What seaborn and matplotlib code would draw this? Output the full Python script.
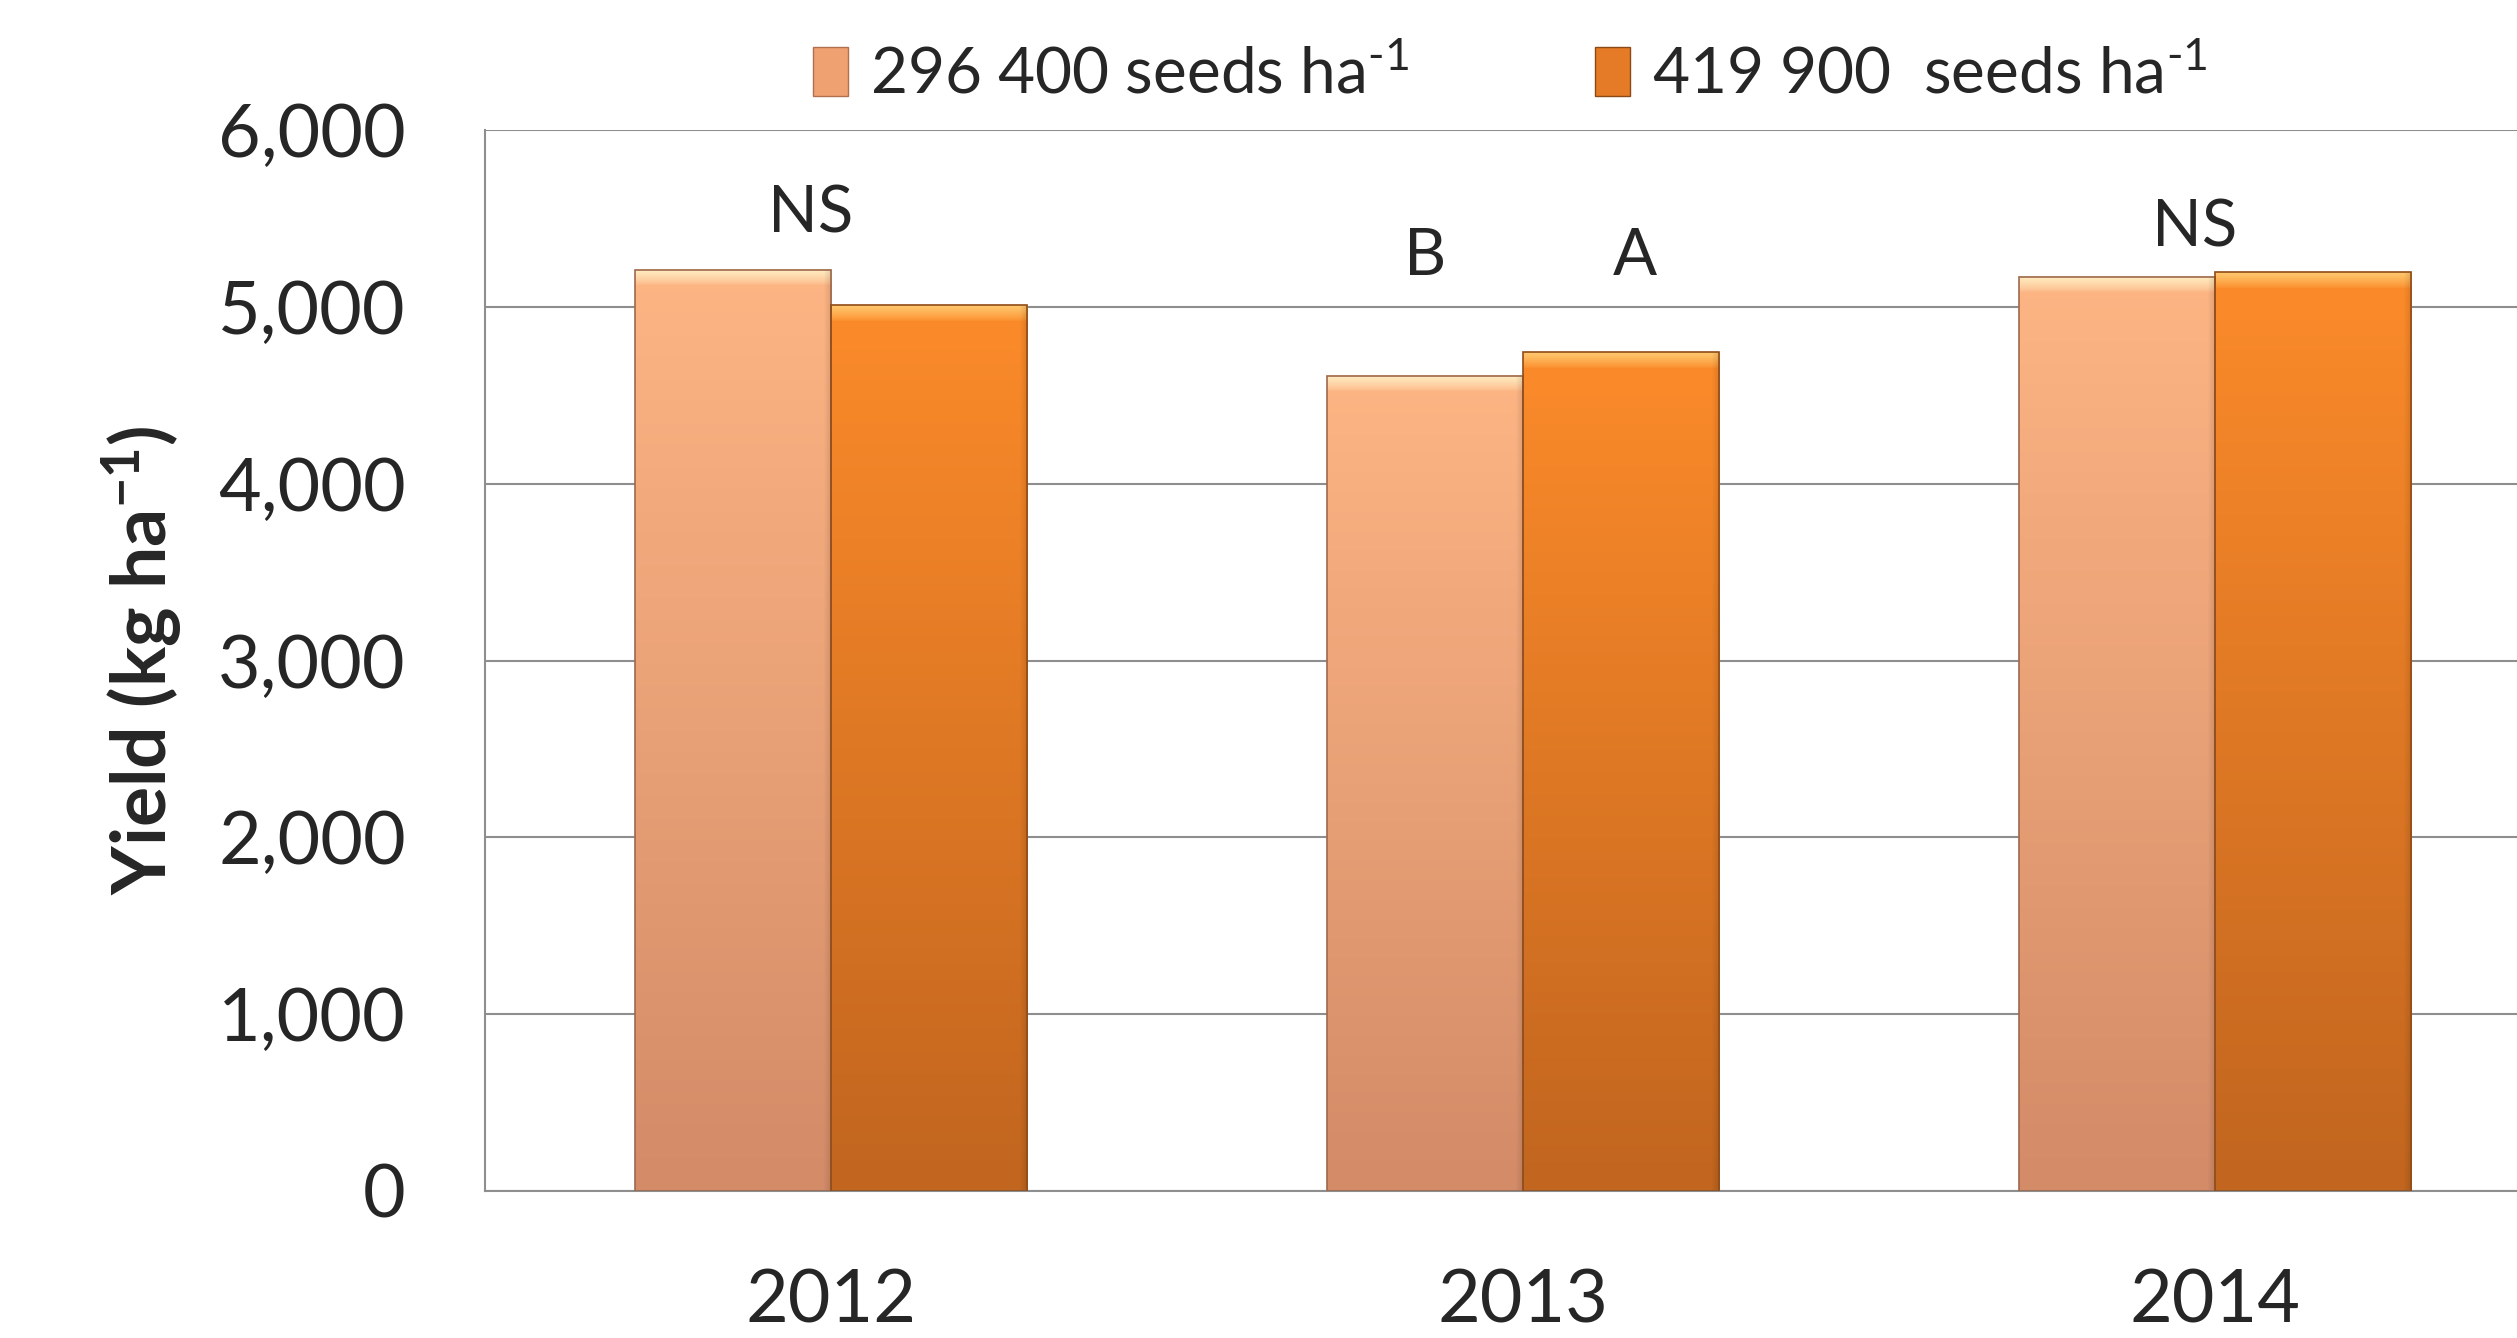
import numpy as np
import pandas as pd
import matplotlib
matplotlib.use("Agg")
import matplotlib.pyplot as plt
import seaborn as sns
from matplotlib.patches import Patch
from matplotlib.ticker import FuncFormatter

# data
years = ["2012", "2013", "2014"]
yield_low = [5210, 4610, 5170]      # 296 400 seeds/ha
yield_high = [5010, 4745, 5195]     # 419 900 seeds/ha
series_labels = [r"296 400 seeds ha$^{\text{-1}}$", r"419 900  seeds ha$^{\text{-1}}$"]

# significance letters: group-level and per-bar
group_letters = ["NS", "", "NS"]
low_letters = ["", "B", ""]
high_letters = ["", "A", ""]
letter_y = [5420, 5180, 5340]

df = pd.DataFrame({
    "year": years * 2,
    "yield": yield_low + yield_high,
    "density": [series_labels[0]] * 3 + [series_labels[1]] * 3,
})

sns.set_style("white")
plt.rcParams["font.family"] = ["Lato", "DejaVu Sans"]
plt.rcParams["mathtext.fontset"] = "custom"
plt.rcParams["mathtext.rm"] = "Lato"
plt.rcParams["mathtext.bf"] = "Lato:bold"
plt.rcParams["mathtext.it"] = "Lato:italic"

grid_col = "#8e8e8e"
light_top, light_bot, light_hi = (253, 181, 132), (211, 139, 104), (255, 238, 195)
dark_top, dark_bot, dark_hi = (252, 139, 42), (193, 101, 31), (255, 200, 110)

fig = plt.figure(figsize=(25.17, 13.38), dpi=100)
ax = fig.add_axes([0.1927, 0.1099, 0.8248, 0.7929])

sns.barplot(data=df, x="year", y="yield", hue="density", order=years,
            hue_order=series_labels, palette=["#fdb584", "#fc8b2a"],
            width=0.567, gap=0, legend=False, ax=ax, zorder=2)

ax.set_xlim(-0.5, 2.5)
ax.set_ylim(0, 6000)
ax.set_yticks(range(0, 6001, 1000))
ax.yaxis.set_major_formatter(FuncFormatter(lambda v, p: f"{int(v):,}"))
ax.yaxis.grid(True, color=grid_col, lw=1.5, zorder=0)
ax.set_axisbelow(True)
for s in ["top", "right"]:
    ax.spines[s].set_visible(False)
for s in ["left", "bottom"]:
    ax.spines[s].set_color(grid_col)
    ax.spines[s].set_linewidth(1.5)

ax.set_xticks([-0.5, 0.5, 1.5, 2.5], minor=True)
ax.tick_params(axis="x", which="minor", length=20, width=1.5, color=grid_col)
ax.tick_params(axis="x", which="major", length=0, pad=56, labelsize=53)
ax.tick_params(axis="y", length=19, width=1.5, color=grid_col, pad=38, labelsize=53)
ax.set_xlabel("")
ax.set_ylabel(r"Yield (kg ha$^{\mathbf{-1}}$)", fontsize=54, fontweight="bold", labelpad=24)


def shade_bar(bar, top, bot, hi):
    x0, w, h = bar.get_x(), bar.get_width(), bar.get_height()
    px = ax.transData.transform((0, h))[1] - ax.transData.transform((0, 0))[1]
    n = max(int(px), 10)
    t = np.linspace(0, 1, n)[:, None]
    col = (1 - t) * np.array(top) + t * np.array(bot)
    band = 16.0 / px
    wgt = np.clip(1 - t / band, 0, 1) ** 0.8
    col = col * (1 - wgt) + np.array(hi) * wgt
    m = 200
    s = np.linspace(0, 1, m)[None, :]
    side = 1 - 0.12 * np.clip((s - 0.96) / 0.04, 0, 1)
    img = col[:, None, :] * side[..., None]
    img = np.clip(img / 255.0, 0, 1)
    ax.imshow(img, extent=[x0, x0 + w, 0, h], aspect="auto", origin="upper",
              interpolation="bilinear", zorder=2.5)
    bar.set_facecolor("none")
    bar.set_edgecolor(tuple(c / 255 * 0.75 for c in bot))
    bar.set_linewidth(1.2)
    bar.set_zorder(3)


for bar in ax.containers[0]:
    shade_bar(bar, light_top, light_bot, light_hi)
for bar in ax.containers[1]:
    shade_bar(bar, dark_top, dark_bot, dark_hi)
ax.set_xlim(-0.5, 2.5)
ax.set_ylim(0, 6000)

for i in range(len(years)):
    lo, hi_bar = ax.containers[0][i], ax.containers[1][i]
    if group_letters[i]:
        ax.text(i - 0.03, letter_y[i], group_letters[i], ha="center", va="baseline", fontsize=47)
    if low_letters[i]:
        ax.text(lo.get_x() + lo.get_width() / 2, letter_y[i], low_letters[i],
                ha="center", va="baseline", fontsize=47)
    if high_letters[i]:
        ax.text(hi_bar.get_x() + hi_bar.get_width() / 2 + 0.02, letter_y[i], high_letters[i],
                ha="center", va="baseline", fontsize=47)

handles = [Patch(facecolor="#f0a172", edgecolor="#b07050", lw=1),
           Patch(facecolor="#e57b26", edgecolor="#8a4a18", lw=1)]
fig.legend(handles, series_labels, loc="center", bbox_to_anchor=(0.6, 0.944),
           ncol=2, frameon=False, fontsize=46, handlelength=0.55, handleheight=0.8,
           handletextpad=0.35, columnspacing=2.9)

fig.savefig("out.png", dpi=100)
